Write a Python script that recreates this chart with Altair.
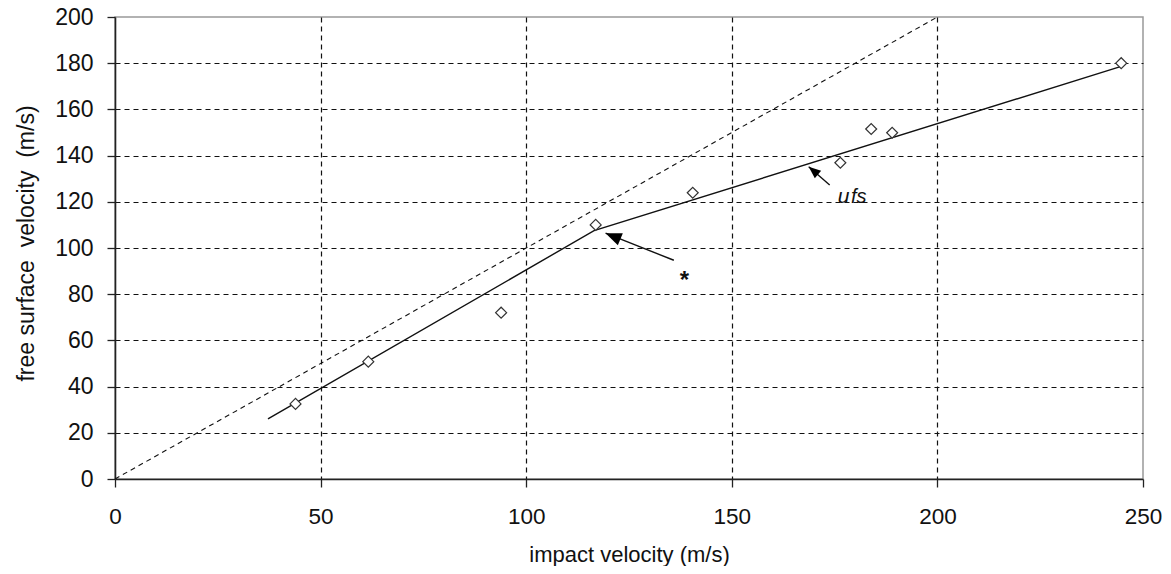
import altair as alt
import pandas as pd

# measured data points (diamonds)
impact = [43.9, 61.6, 93.9, 116.9, 140.5, 176.4, 183.9, 189.0, 244.7]
free_surface = [32.5, 50.8, 72.0, 110.0, 123.9, 136.9, 151.5, 149.9, 180.0]

# model line u_fs (piecewise)
fit_x = [37.2, 116.5, 244.7]
fit_y = [26.0, 107.5, 178.6]

# equality line
eq_x = [0, 200]
eq_y = [0, 200]

# arrows: tail -> head
arrow_x = [135.9, 173.8]
arrow_y = [94.7, 127.3]
arrow_x2 = [119.3, 168.7]
arrow_y2 = [106.4, 135.2]
arrow_angle = [292.5, 310.0]
arrow_size = [400, 230]

x_ticks = [0, 50, 100, 150, 200, 250]
y_ticks = [0, 20, 40, 60, 80, 100, 120, 140, 160, 180, 200]

FONT = "Liberation Sans"

pts = pd.DataFrame({"x": impact, "y": free_surface})
fit = pd.DataFrame({"x": fit_x, "y": fit_y})
eq = pd.DataFrame({"x": eq_x, "y": eq_y})
arrows = pd.DataFrame({"x": arrow_x, "y": arrow_y, "x2": arrow_x2, "y2": arrow_y2,
                       "angle": arrow_angle, "size": arrow_size})

xscale = alt.Scale(domain=[0, 250], nice=False, zero=False)
yscale = alt.Scale(domain=[0, 200], nice=False, zero=False)

xaxis = alt.Axis(
    values=x_ticks, title="impact velocity (m/s)", format="d",
    grid=True, gridColor="#111", gridDash=[5, 4], gridWidth=1.2,
    gridOpacity=alt.condition("datum.value == 0 || datum.value == 250", alt.value(0), alt.value(1)),
    domainColor="#222", domainWidth=1.6, tickColor="#222", tickWidth=1.3, tickSize=8,
    labelFont=FONT, labelFontSize=22.5, labelColor="#111", labelPadding=36,
    labelBaseline="alphabetic", labelFlush=False,
    titleFont=FONT, titleFontSize=22, titleFontWeight="normal", titleColor="#111",
    titleBaseline="alphabetic", titleY=82, titleX=514,
)
yaxis = alt.Axis(
    values=y_ticks, title="free surface\u00a0 velocity\u00a0 (m/s)", format="d",
    grid=True, gridColor="#111", gridDash=[5, 4], gridWidth=1.2,
    gridOpacity=alt.condition("datum.value == 0 || datum.value == 200", alt.value(0), alt.value(1)),
    domainColor="#222", domainWidth=1.6, tickColor="#222", tickWidth=1.3, tickSize=8,
    labelFont=FONT, labelFontSize=23, labelColor="#111", labelPadding=14,
    labelFlush=False,
    titleFont=FONT, titleFontSize=23, titleFontWeight="normal", titleColor="#111",
    titleAngle=270, titleAlign="center", titleBaseline="middle", titleX=-89, titleY=226,
)

base_x = alt.X("x:Q", scale=xscale, axis=xaxis)
base_y = alt.Y("y:Q", scale=yscale, axis=yaxis)

eq_line = alt.Chart(eq).mark_line(color="#111", strokeWidth=1.1, strokeDash=[5, 4]).encode(
    x=base_x, y=base_y)

fit_line = alt.Chart(fit).mark_line(color="#111", strokeWidth=1.4).encode(
    x=alt.X("x:Q", scale=xscale), y=alt.Y("y:Q", scale=yscale))

points = alt.Chart(pts).mark_point(shape="diamond", filled=True, fill="white", stroke="#333",
                                   strokeWidth=1.2, size=120, opacity=1).encode(
    x=alt.X("x:Q", scale=xscale), y=alt.Y("y:Q", scale=yscale))

shafts = alt.Chart(arrows).mark_rule(color="#111", strokeWidth=1.4).encode(
    x=alt.X("x:Q", scale=xscale), y=alt.Y("y:Q", scale=yscale),
    x2="x2:Q", y2="y2:Q")

heads = alt.Chart(arrows).mark_point(
    shape="M0,0L0.65,1.6L-0.65,1.6Z", filled=True, color="#000", opacity=1, strokeWidth=0).encode(
    x=alt.X("x2:Q", scale=xscale), y=alt.Y("y2:Q", scale=yscale),
    angle=alt.Angle("angle:Q", scale=None),
    size=alt.Size("size:Q", scale=None))

star = alt.Chart(pd.DataFrame({"x": [138.5], "y": [82.5], "t": ["*"]})).mark_text(
    font=FONT, fontSize=24, fontWeight="bold", color="#111", align="center", baseline="alphabetic").encode(
    x=alt.X("x:Q", scale=xscale), y=alt.Y("y:Q", scale=yscale), text="t:N")

u_text = alt.Chart(pd.DataFrame({"x": [177.2], "y": [119.4], "t": ["u"]})).mark_text(
    font=FONT, fontSize=21, fontStyle="italic", color="#111", align="center", baseline="alphabetic").encode(
    x=alt.X("x:Q", scale=xscale), y=alt.Y("y:Q", scale=yscale), text="t:N")

fs_text = alt.Chart(pd.DataFrame({"x": [179.0], "y": [119.4], "t": ["fs"]})).mark_text(
    font=FONT, fontSize=20, fontStyle="italic", color="#111", align="left", baseline="alphabetic").encode(
    x=alt.X("x:Q", scale=xscale), y=alt.Y("y:Q", scale=yscale), text="t:N")

chart = alt.layer(eq_line, fit_line, shafts, heads, points, star, u_text, fs_text).properties(
    width=1028, height=462,
    autosize=alt.AutoSizeParams(type="none"),
    padding={"left": 107, "top": 9, "right": 20, "bottom": 87},
    background="white",
).configure_view(stroke="#999", strokeWidth=1.5)

chart.save("out.html", embed_options={"renderer": "svg", "actions": False})
